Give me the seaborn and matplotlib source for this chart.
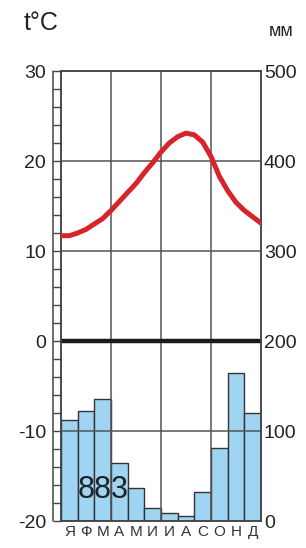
import numpy as np
import pandas as pd
import seaborn as sns
import matplotlib.pyplot as plt

# Данные климатограммы
months = ['Я', 'Ф', 'М', 'А', 'М', 'И', 'И', 'А', 'С', 'О', 'Н', 'Д']
precip_mm = [112, 122, 136, 65, 37, 14, 9, 6, 32, 81, 165, 120]
annual_total = '883'
temp_c = [11.7, 11.7, 12.0, 12.4, 13.0, 13.6, 14.5, 15.5, 16.5, 17.5, 18.7, 19.8, 21.0,
          22.0, 22.7, 23.1, 22.9, 22.1, 20.5, 18.3, 16.7, 15.4, 14.5, 13.8, 13.1]

sns.set_theme(style='white')
plt.rcParams['font.family'] = ['Liberation Sans', 'DejaVu Sans']
plt.rcParams['axes.unicode_minus'] = False

df_bars = pd.DataFrame({'idx': range(12), 'mm': precip_mm})
df_temp = pd.DataFrame({'t': np.arange(len(temp_c)) / 2 - 0.5, 'temp': temp_c})

fig = plt.figure(figsize=(3.06, 5.48), dpi=100)
ax = fig.add_axes([61 / 306, 1 - 521 / 548, 200 / 306, 450 / 548])
ax2 = ax.twinx()

# осадки (на заднем плане)
sns.barplot(data=df_bars, x='idx', y='mm', ax=ax2, width=1.0, color='#9fd4f2',
            edgecolor='#333333', linewidth=1.0, saturation=1)
ax2.set_ylim(0, 500)
ax2.set_yticks(range(0, 501, 100))
ax2.tick_params(axis='y', length=0, pad=2, labelsize=14, labelcolor='#222222')
ax2.set_ylabel('')
ax2.set_xlabel('')

ax.set_zorder(ax2.get_zorder() + 1)
ax.patch.set_visible(False)

# сетка
for v in [-10, 10, 20]:
    ax.axhline(v, color='#555555', lw=1.1, zorder=1)
for m in [2.5, 5.5, 8.5]:
    ax.axvline(m, color='#555555', lw=1.1, zorder=1)
ax.axhline(0, color='#1a1a1a', lw=3.2, zorder=2)

# температура
sns.lineplot(data=df_temp, x='t', y='temp', ax=ax, color='#d8232a', lw=3.6, zorder=3)

ax.set_xlim(-0.5, 11.5)
ax.set_ylim(-20, 30)
ax.set_yticks(range(-20, 31, 10))
ax.set_yticks(range(-20, 31, 2), minor=True)
ax.tick_params(axis='y', which='both', length=5.8, width=1, color='#444444',
               direction='out', left=True)
ax.tick_params(axis='y', which='major', pad=5, labelsize=14, labelcolor='#222222')
ax.set_xticks(range(12))
ax.set_xticklabels(months)
ax.tick_params(axis='x', length=0, pad=3, labelsize=11, labelcolor='#333333')
ax2.set_xticks(range(12))
ax.set_xlabel('')
ax.set_ylabel('')

for a in (ax, ax2):
    for s in a.spines.values():
        s.set_color('#444444')
        s.set_linewidth(1.1)

# «лесенка» слева
ax.plot([-0.04, -0.04], [0, 1], transform=ax.transAxes, color='#444444', lw=1.1,
        clip_on=False)

ax.text(2.0, -16.6, annual_total, fontsize=22, color='#222222', ha='center', va='center',
        zorder=4)

fig.text(24 / 306, 1 - 23 / 548, 't°C', fontsize=18, color='#222222', ha='left', va='center')
fig.text(281 / 306, 1 - 32 / 548, 'мм', fontsize=13, color='#222222', ha='center', va='center')

plt.savefig('out.png', dpi=100)
plt.close()
